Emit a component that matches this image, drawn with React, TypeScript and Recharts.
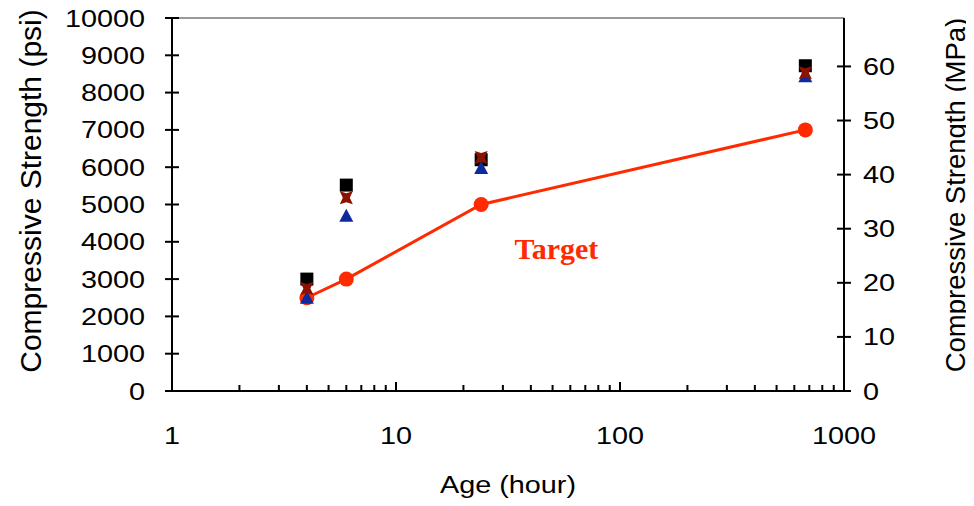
import React from 'react';
import {
  ComposedChart, Line, Scatter, XAxis, YAxis, ReferenceLine, ReferenceDot,
} from 'recharts';

// ---- data ----
const targetData = [
  { x: 4, y: 2500 },
  { x: 6, y: 3000 },
  { x: 24, y: 5000 },
  { x: 672, y: 7000 },
];
const blackSquares = [
  { x: 4, y: 3000 },
  { x: 6, y: 5520 },
  { x: 24, y: 6200 },
  { x: 672, y: 8720 },
];
const darkRedMarks = [
  { x: 4, y: 2750 },
  { x: 6, y: 5180 },
  { x: 24, y: 6260 },
  { x: 672, y: 8530 },
];
const blueTriangles = [
  { x: 4, y: 2500 },
  { x: 6, y: 4700 },
  { x: 24, y: 5980 },
  { x: 672, y: 8440 },
];
const xTicks = [1, 2, 3, 4, 5, 6, 7, 8, 9, 10, 20, 30, 40, 50, 60, 70, 80, 90, 100, 200, 300, 400, 500, 600, 700, 800, 900, 1000];
const xLabels = [1, 10, 100, 1000];
const psiTicks = [0, 1000, 2000, 3000, 4000, 5000, 6000, 7000, 8000, 9000, 10000];
const mpaTicks = [0, 10, 20, 30, 40, 50, 60];
const MPA_MAX = 68.95;

const FONT = '"Liberation Sans", Arial, sans-serif';

const XTick = (props: any) => {
  const { x, y, payload } = props;
  const v = payload.value;
  const major = xLabels.includes(v);
  const len = v === 1 || v === 1000 ? 0 : major ? 9 : 6;
  return (
    <g>
      {len > 0 && <line x1={x} x2={x} y1={y} y2={y - len} stroke="#000" strokeWidth={2} />}
      {major && (
        <text transform={`translate(${x},${y + 53}) scale(1.2,1)`} textAnchor="middle"
          fontFamily={FONT} fontSize={24} fill="#000">{v}</text>
      )}
    </g>
  );
};

const LeftTick = (props: any) => {
  const { x, y, payload } = props;
  return (
    <g>
      <line x1={x - 7} x2={x + 7} y1={y} y2={y} stroke="#000" strokeWidth={2} />
      <text transform={`translate(${x - 27},${y + 8.5}) scale(1.2,1)`} textAnchor="end"
        fontFamily={FONT} fontSize={24} fill="#000">{payload.value}</text>
    </g>
  );
};

const RightTick = (props: any) => {
  const { x, y, payload } = props;
  return (
    <g>
      <line x1={x - 7} x2={x + 7} y1={y} y2={y} stroke="#000" strokeWidth={2} />
      <text transform={`translate(${x + 19},${y + 8.5}) scale(1.2,1)`} textAnchor="start"
        fontFamily={FONT} fontSize={24} fill="#000">{payload.value}</text>
    </g>
  );
};

const SquareShape = (props: any) => {
  const { cx, cy } = props;
  return <rect x={cx - 6.5} y={cy - 6.5} width={13} height={13} fill="#000" />;
};
const XShape = (props: any) => {
  const { cx, cy } = props;
  const p = [
    [-6.5, -6.5], [0, -4.5], [6.5, -6.5], [3.5, 0], [6.5, 6.5], [0, 4.5], [-6.5, 6.5], [-3.5, 0],
  ].map(([a, b]) => `${cx + a},${cy + b}`).join(' ');
  return <polygon points={p} fill="#8B1200" />;
};
const TriShape = (props: any) => {
  const { cx, cy } = props;
  const p = `${cx},${cy - 7} ${cx + 7},${cy + 6} ${cx - 7},${cy + 6}`;
  return <polygon points={p} fill="#0E2A9C" />;
};

export default function App() {
  return (
    <div style={{ marginTop: -8 }}>
      <ComposedChart width={966} height={506} margin={{ top: 18, right: 0, bottom: 0, left: 0 }}>
        <XAxis
          dataKey="x" type="number" scale="log" domain={[1, 1000]} ticks={xTicks}
          allowDataOverflow interval={0} height={115}
          axisLine={{ stroke: '#000', strokeWidth: 2 }} tickLine={false} tickSize={0} tickMargin={0}
          tick={<XTick />}
          label={{
            content: () => (
              <text transform="translate(500,493) scale(1.2,1)" textAnchor="middle"
                fontFamily={FONT} fontSize={24} fill="#000">Age (hour)</text>
            ),
          }}
        />
        <YAxis
          yAxisId="left" domain={[0, 10000]} ticks={psiTicks} width={164} interval={0}
          axisLine={{ stroke: '#000', strokeWidth: 2 }} tickLine={false} tickSize={0} tickMargin={0}
          tick={<LeftTick />}
          label={{
            content: () => (
              <text transform="translate(33,191) rotate(-90)" textAnchor="middle"
                fontFamily={FONT} fontSize={30} fill="#000">Compressive Strength (psi)</text>
            ),
          }}
        />
        <YAxis
          yAxisId="right" orientation="right" domain={[0, MPA_MAX]} ticks={mpaTicks} width={130}
          interval={0} allowDataOverflow
          axisLine={{ stroke: '#000', strokeWidth: 2 }} tickLine={false} tickSize={0} tickMargin={0}
          tick={<RightTick />}
          label={{
            content: () => (
              <text transform="translate(957,195) rotate(-90)" textAnchor="middle"
                fontFamily={FONT} fontSize={27.5} fill="#000">Compressive Strength (MPa)</text>
            ),
          }}
        />
        <ReferenceLine yAxisId="left" y={10000} stroke="#999" strokeWidth={2} />
        <Line
          yAxisId="left" data={targetData} dataKey="y" stroke="#FF2A00" strokeWidth={3}
          dot={{ r: 7.5, fill: '#FF2A00', stroke: '#FF2A00', strokeWidth: 0 }}
          isAnimationActive={false} type="linear"
        />
        <Scatter yAxisId="left" data={blackSquares} dataKey="y" shape={<SquareShape />} isAnimationActive={false} />
        <Scatter yAxisId="left" data={blueTriangles} dataKey="y" shape={<TriShape />} isAnimationActive={false} />
        <Scatter yAxisId="left" data={darkRedMarks} dataKey="y" shape={<XShape />} isAnimationActive={false} />
        <ReferenceDot
          yAxisId="left" x={52} y={3800} r={0} fill="none" stroke="none"
          label={{
            content: (p: any) => {
              const vb = p.viewBox || {};
              const cx = (vb.x ?? 0) + (vb.width ?? 0) / 2;
              const cy = (vb.y ?? 0) + (vb.height ?? 0) / 2;
              return (
                <text x={cx} y={cy + 10} textAnchor="middle" fontFamily='"Liberation Serif", "Times New Roman", serif'
                  fontWeight="bold" fontSize={30} fill="#FF2A00">Target</text>
              );
            },
          }}
        />
      </ComposedChart>
    </div>
  );
}
